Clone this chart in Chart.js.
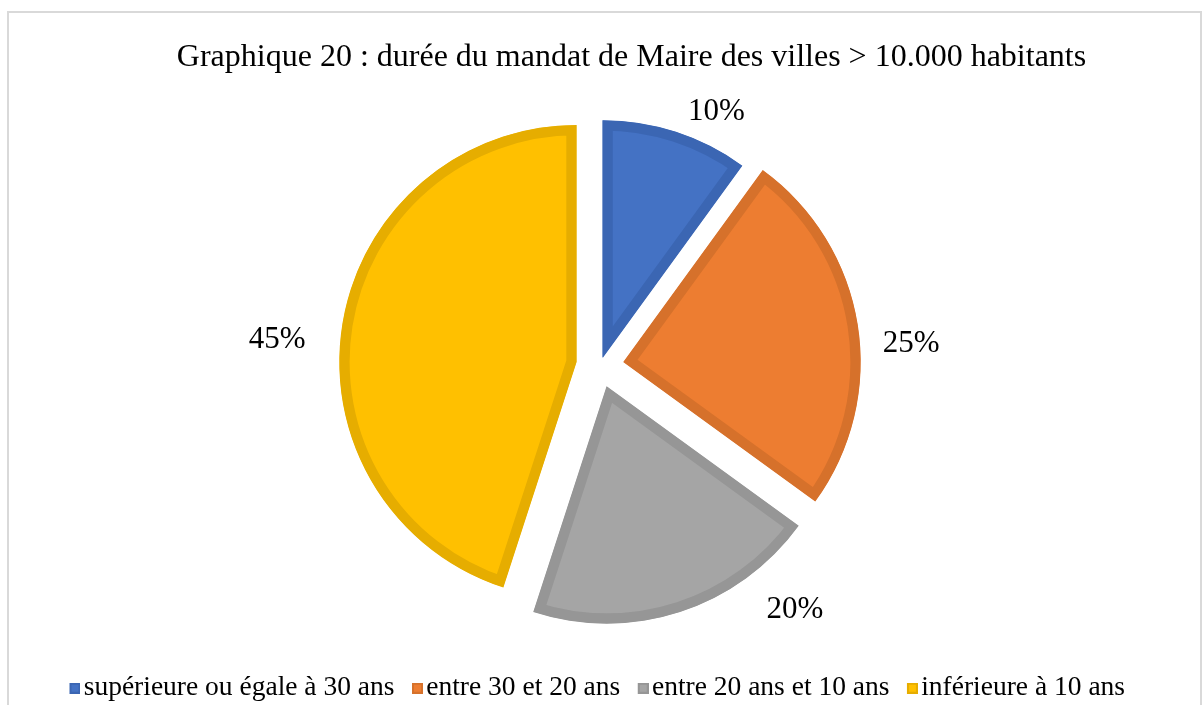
<!DOCTYPE html>
<html><head><meta charset="utf-8">
<script src="https://cdn.jsdelivr.net/npm/chart.js@4.4.1/dist/chart.umd.min.js"></script>
<style>
html,body{margin:0;padding:0;overflow:hidden;background:#fff;width:1203px;height:705px;}
#frame{position:absolute;left:7px;top:11px;width:1195px;height:740px;box-sizing:border-box;border:2px solid #d9d9d9;}
#wrap{position:absolute;left:0;top:0;width:1203px;height:712px;}
</style></head><body>
<div id="frame"></div>
<div id="wrap"><canvas id="c" width="1203" height="712"></canvas></div>
<script>
const titleText = 'Graphique 20 : durée du mandat de Maire des villes > 10.000 habitants';
const categories = ['supérieure ou égale à 30 ans', 'entre 30 et 20 ans', 'entre 20 ans et 10 ans', 'inférieure à 10 ans'];
const shares = [10, 25, 20, 45];
const fillColors = ['#4472C4', '#ED7D31', '#A5A5A5', '#FFC000'];
const borderColors = ['#3B66B3', '#D6712B', '#969696', '#E6AD00'];
const explodeDistances = [9, 24, 22, 24];
const labelShiftDeg = [6.4, 4.5, -20.9, -4];
const labelGap = [44.6, 75.2, 73.2, 87];

const serif = '"Liberation Serif", "Times New Roman", serif';

function makeSwatch(fill, border) {
  const c = document.createElement('canvas');
  c.width = 22; c.height = 11;
  const g = c.getContext('2d');
  g.fillStyle = border; g.fillRect(11, 0, 11, 11);
  g.fillStyle = fill; g.fillRect(13, 2, 7, 7);
  return c;
}
const swatches = fillColors.map((f, i) => makeSwatch(f, borderColors[i]));

const explodePlugin = {
  id: 'explode',
  beforeDatasetsDraw(chart, args, opts) {
    const ca = chart.chartArea;
    const cx = (ca.left + ca.right) / 2, cy = (ca.top + ca.bottom) / 2;
    chart.getDatasetMeta(0).data.forEach((arc, i) => {
      const mid = (arc.startAngle + arc.endAngle) / 2;
      const d = opts.distances[i] || 0;
      arc.x = cx + Math.cos(mid) * d;
      arc.y = cy + Math.sin(mid) * d;
    });
  }
};

const pctLabels = {
  id: 'pctLabels',
  afterDatasetsDraw(chart, args, opts) {
    const ctx = chart.ctx;
    const ca = chart.chartArea;
    const cx = (ca.left + ca.right) / 2, cy = (ca.top + ca.bottom) / 2;
    ctx.save();
    ctx.font = opts.font;
    ctx.fillStyle = opts.color;
    ctx.textAlign = 'center';
    ctx.textBaseline = 'middle';
    chart.getDatasetMeta(0).data.forEach((arc, i) => {
      const a = (arc.startAngle + arc.endAngle) / 2 + opts.shift[i] * Math.PI / 180;
      const r = arc.outerRadius + opts.gap[i];
      ctx.fillText(shares[i] + '%', cx + Math.cos(a) * r, cy + Math.sin(a) * r + opts.dy);
    });
    ctx.restore();
  }
};

const boxShift = {
  id: 'boxShift',
  afterLayout(chart, args, opts) {
    if (chart.titleBlock) chart.titleBlock.left += opts.titleDx * 2;
    if (chart.legend) chart.legend.left += opts.legendDx * 2;
  }
};

new Chart(document.getElementById('c'), {
  type: 'pie',
  data: {
    labels: categories,
    datasets: [{
      data: shares,
      backgroundColor: fillColors,
      borderColor: borderColors,
      borderWidth: 10,
      borderAlign: 'inner',
      radius: 237,
      clip: false
    }]
  },
  options: {
    responsive: false,
    animation: false,
    events: [],
    layout: { padding: { left: 0, right: 3, top: 0, bottom: 0 } },
    plugins: {
      title: {
        display: true,
        text: titleText,
        color: '#000',
        font: { family: serif, size: 32, weight: 'normal', lineHeight: 1 },
        padding: { top: 42, bottom: 0 }
      },
      legend: {
        display: true,
        position: 'bottom',
        labels: {
          usePointStyle: true,
          boxWidth: 1,
          padding: 17,
          color: '#000',
          font: { family: serif, size: 27.5 },
          generateLabels: () => categories.map((t, i) => ({
            text: t, fillStyle: fillColors[i], strokeStyle: borderColors[i], lineWidth: 0,
            pointStyle: swatches[i], hidden: false, index: i, fontColor: '#000'
          }))
        }
      },
      tooltip: { enabled: false },
      explode: { distances: explodeDistances },
      pctLabels: { font: '31px ' + serif, color: '#000', shift: labelShiftDeg, gap: labelGap, dy: 2.5 },
      boxShift: { titleDx: 31.5, legendDx: -3 }
    }
  },
  plugins: [explodePlugin, pctLabels, boxShift]
});
</script>
</body></html>
